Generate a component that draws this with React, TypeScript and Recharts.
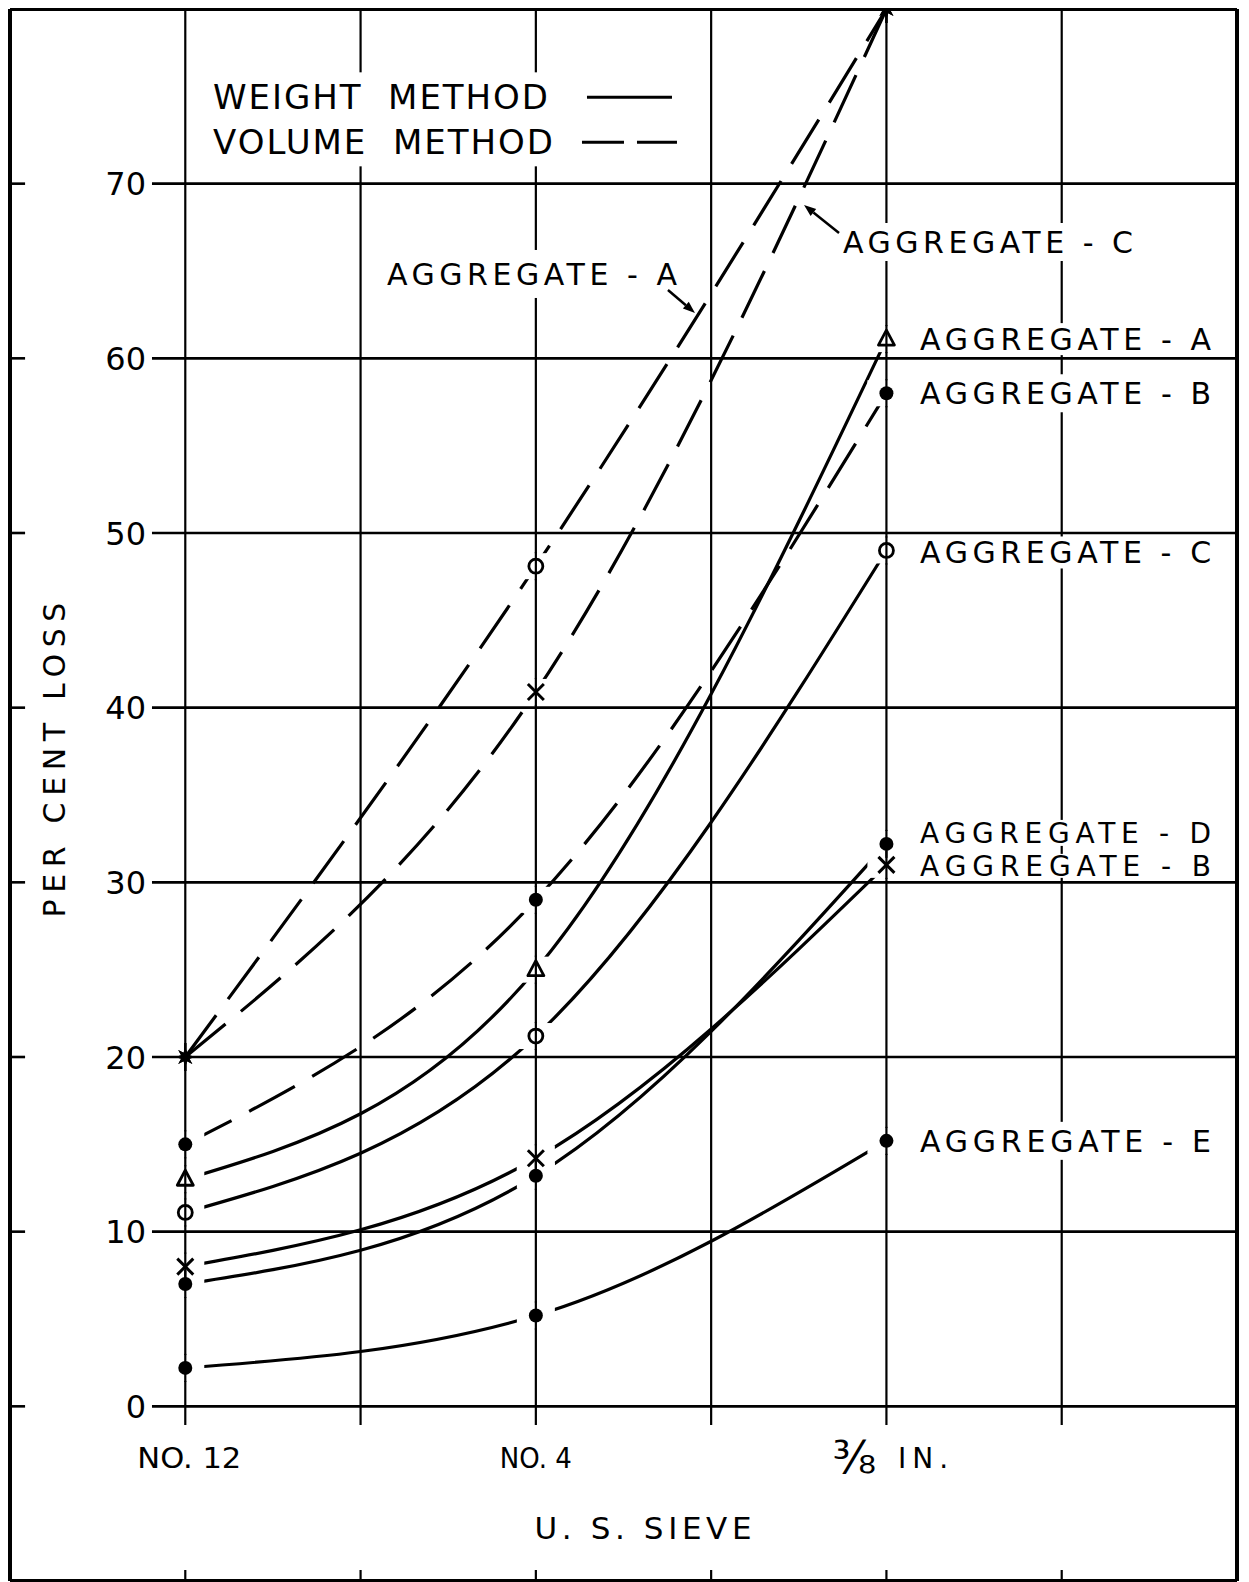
import React from "react";
import {
  ComposedChart,
  Line,
  ReferenceDot,
  ReferenceLine,
  Scatter,
  XAxis,
  YAxis,
} from "recharts";

/** One x unit per sieve size; grid lines fall on the half steps too. */
const SIEVE_POSITIONS = [0, 1, 2];
const SIEVE_LABELS = ["NO. 12", "NO. 4", "⅜ IN."];
const Y_TICKS = [0, 10, 20, 30, 40, 50, 60, 70];
const X_GRID = [0, 0.5, 1, 1.5, 2, 2.5];

// per cent loss at NO. 12, NO. 4 and 3/8 in.
const WEIGHT_A = [13, 25, 61.1];
const WEIGHT_B = [8, 14.2, 31];
const WEIGHT_C = [11.1, 21.2, 49];
const WEIGHT_D = [7, 13.2, 32.2];
const WEIGHT_E = [2.2, 5.2, 15.2];
const VOLUME_A = [20, 48.1, 80];
const VOLUME_B = [15, 29, 58];
const VOLUME_C = [20, 40.9, 80];

const FONT = '"DejaVu Sans", sans-serif';
const INK = "#000";

const CHART_WIDTH = 1233;
const CHART_HEIGHT = 1574;
const MARGIN = { top: 1, right: 4, bottom: 1, left: 2 };
const X_DOMAIN: [number, number] = [-0.5, 3];
const Y_DOMAIN: [number, number] = [-10, 80];

// where grid lines stop, in data units
const GRID_LEFT = -0.095;
const GRID_BOTTOM = -1.07;
const BORDER_TICK_X = -0.457;
const BORDER_TICK_Y = -9.37;

// annotation anchors, in data units
const Y_LABEL_X = -0.112;
const X_LABEL_Y = -2.95;
const RIGHT_LABEL_X = 2.096;
const LEGEND_AT = { x: 0.079, y: 75.0 };
const ARROW_LABEL_A = { x: 0.5753, y: 64.83 };
const ARROW_LABEL_C = { x: 1.8762, y: 66.66 };
const X_TITLE_AT = { x: 1.3056, y: -6.97 };
const Y_TITLE_AT = { x: -0.3745, y: 37.0 };

type MarkerKind = "dot" | "ring" | "triangle" | "cross";

type SeriesDef = {
  key: string;
  values: number[];
  dashed: boolean;
  marker: MarkerKind;
  endLabel?: string;
  labelShift?: number;
  boxHalf?: number;
  labelSize?: number;
};

const SERIES: SeriesDef[] = [
  { key: "weightA", values: WEIGHT_A, dashed: false, marker: "triangle", endLabel: "AGGREGATE - A", boxHalf: 16 },
  { key: "volumeB", values: VOLUME_B, dashed: true, marker: "dot", endLabel: "AGGREGATE - B" },
  { key: "weightC", values: WEIGHT_C, dashed: false, marker: "ring", endLabel: "AGGREGATE - C", labelShift: 2, boxHalf: 16 },
  { key: "weightD", values: WEIGHT_D, dashed: false, marker: "dot", endLabel: "AGGREGATE - D", labelShift: -11, boxHalf: 13, labelSize: 28 },
  { key: "weightB", values: WEIGHT_B, dashed: false, marker: "cross", endLabel: "AGGREGATE - B", labelShift: 1, boxHalf: 12, labelSize: 28 },
  { key: "weightE", values: WEIGHT_E, dashed: false, marker: "dot", endLabel: "AGGREGATE - E" },
  { key: "volumeA", values: VOLUME_A, dashed: true, marker: "ring" },
  { key: "volumeC", values: VOLUME_C, dashed: true, marker: "cross" },
];

// drawn width of each sieve label, px
const SIEVE_LABEL_WIDTH: Record<string, number> = { "NO. 12": 104, "NO. 4": 72 };

type Pt = { x: number; y: number; shared: boolean };

function pointsOf(s: SeriesDef): Pt[] {
  return SIEVE_POSITIONS.map((x, i) => ({
    x,
    y: s.values[i],
    shared: SERIES.some((o) => o !== s && o.values[i] === s.values[i]),
  }));
}

function starPath(cx: number, cy: number, outer: number, inner: number, spikes: number) {
  let d = "";
  for (let i = 0; i < spikes * 2; i++) {
    const r = i % 2 === 0 ? outer : inner;
    const a = (Math.PI * i) / spikes - Math.PI / 2;
    d += `${i === 0 ? "M" : "L"}${cx + r * Math.cos(a)},${cy + r * Math.sin(a)}`;
  }
  return d + "Z";
}

// white patch so the curves stop short of each marker, like the drawing
function renderHalo(props: any) {
  const { cx, cy, payload } = props;
  if (cx == null || cy == null || payload?.shared) return <g />;
  return <rect x={cx - 19} y={cy - 13} width={38} height={26} fill="#fff" />;
}

function renderMarker(kind: MarkerKind) {
  return (props: any) => {
    const { cx, cy, payload } = props;
    if (cx == null || cy == null) return <g />;
    const stem = (
      <line x1={cx} x2={cx} y1={cy - 14} y2={cy + 14} stroke={INK} strokeWidth={2.2} />
    );
    if (payload?.shared) {
      return (
        <g>
          {stem}
          <path d={starPath(cx, cy, 10, 4.5, 8)} fill={INK} />
        </g>
      );
    }
    if (kind === "dot") {
      return (
        <g>
          {stem}
          <circle cx={cx} cy={cy} r={7} fill={INK} />
        </g>
      );
    }
    if (kind === "ring") {
      return (
        <g>
          {stem}
          <circle cx={cx} cy={cy} r={7} fill="none" stroke={INK} strokeWidth={2.8} />
        </g>
      );
    }
    if (kind === "triangle") {
      return (
        <g>
          {stem}
          <polygon
            points={`${cx},${cy - 9} ${cx - 8},${cy + 6} ${cx + 8},${cy + 6}`}
            fill="none"
            stroke={INK}
            strokeWidth={2.8}
            strokeLinejoin="round"
          />
        </g>
      );
    }
    return (
      <g>
        {stem}
        <path
          d={`M${cx - 8},${cy - 8}L${cx + 8},${cy + 8}M${cx + 8},${cy - 8}L${cx - 8},${cy + 8}`}
          stroke={INK}
          strokeWidth={3}
        />
      </g>
    );
  };
}

type BoxedProps = {
  x: number;
  y: number;
  text: string;
  width: number;
  fontSize: number;
  halfH?: number;
};

function BoxedText({ x, y, text, width, fontSize, halfH = 19 }: BoxedProps) {
  return (
    <g>
      <rect x={x - 7} y={y - halfH} width={width + 14} height={halfH * 2} fill="#fff" />
      <text
        x={x}
        y={y + fontSize * 0.36}
        fontSize={fontSize}
        fontFamily={FONT}
        fill={INK}
        textLength={width}
        lengthAdjust="spacing"
        style={{ whiteSpace: "pre" }}
      >
        {text}
      </text>
    </g>
  );
}

function Arrow({ x1, y1, x2, y2 }: { x1: number; y1: number; x2: number; y2: number }) {
  const ang = Math.atan2(y2 - y1, x2 - x1);
  const len = 12;
  const half = 4.5;
  const bx = x2 - len * Math.cos(ang);
  const by = y2 - len * Math.sin(ang);
  const px = -Math.sin(ang) * half;
  const py = Math.cos(ang) * half;
  return (
    <g>
      <line x1={x1} y1={y1} x2={bx} y2={by} stroke={INK} strokeWidth={2.5} />
      <polygon points={`${x2},${y2} ${bx + px},${by + py} ${bx - px},${by - py}`} fill={INK} />
    </g>
  );
}

function renderSieveLabel(label: string) {
  return (props: any) => {
    const { cx, cy } = props;
    const fs = 28;
    if (label.startsWith("⅜")) {
      const rest = label.slice(1).trim();
      return (
        <text x={cx - 54} y={cy + 15} fontFamily={FONT} fill={INK}>
          <tspan fontSize={45}>⅜</tspan>
          <tspan fontSize={fs} dx={22} dy={-5} letterSpacing={6}>
            {rest}
          </tspan>
        </text>
      );
    }
    return (
      <text
        x={cx + (label === "NO. 12" ? 4 : 0)}
        y={cy + fs * 0.36}
        fontSize={fs}
        fontFamily={FONT}
        fill={INK}
        textAnchor="middle"
        textLength={SIEVE_LABEL_WIDTH[label]}
        lengthAdjust="spacingAndGlyphs"
      >
        {label}
      </text>
    );
  };
}

export default function App() {
  return (
    <div style={{ width: CHART_WIDTH, height: CHART_HEIGHT, background: "#fff" }}>
      <ComposedChart
        width={CHART_WIDTH}
        height={CHART_HEIGHT}
        margin={MARGIN}
        style={{ fontFamily: FONT }}
      >
        <XAxis type="number" dataKey="x" domain={X_DOMAIN} allowDataOverflow hide />
        <YAxis type="number" dataKey="y" domain={Y_DOMAIN} allowDataOverflow hide />

        {Y_TICKS.map((v) => (
          <ReferenceLine
            key={`h-${v}`}
            segment={[{ x: GRID_LEFT, y: v }, { x: X_DOMAIN[1], y: v }]}
            stroke={INK}
            strokeWidth={2.6}
            ifOverflow="visible"
          />
        ))}
        {Y_TICKS.map((v) => (
          <ReferenceLine
            key={`lt-${v}`}
            segment={[{ x: X_DOMAIN[0], y: v }, { x: BORDER_TICK_X, y: v }]}
            stroke={INK}
            strokeWidth={2.6}
            ifOverflow="visible"
          />
        ))}
        {X_GRID.map((v) => (
          <ReferenceLine
            key={`v-${v}`}
            segment={[{ x: v, y: GRID_BOTTOM }, { x: v, y: Y_DOMAIN[1] }]}
            stroke={INK}
            strokeWidth={2.2}
            ifOverflow="visible"
          />
        ))}
        {X_GRID.map((v) => (
          <ReferenceLine
            key={`bt-${v}`}
            segment={[{ x: v, y: Y_DOMAIN[0] }, { x: v, y: BORDER_TICK_Y }]}
            stroke={INK}
            strokeWidth={2.2}
            ifOverflow="visible"
          />
        ))}
        <ReferenceLine x={X_DOMAIN[0]} stroke={INK} strokeWidth={4} ifOverflow="visible" />
        <ReferenceLine x={X_DOMAIN[1]} stroke={INK} strokeWidth={4} ifOverflow="visible" />
        <ReferenceLine y={Y_DOMAIN[0]} stroke={INK} strokeWidth={4} ifOverflow="visible" />
        <ReferenceLine y={Y_DOMAIN[1]} stroke={INK} strokeWidth={4} ifOverflow="visible" />

        {SERIES.map((s) => (
          <Line
            key={`line-${s.key}`}
            data={pointsOf(s)}
            dataKey="y"
            type="monotone"
            stroke={INK}
            strokeWidth={3.2}
            strokeDasharray={s.dashed ? "52 20" : undefined}
            dot={false}
            activeDot={false}
            isAnimationActive={false}
          />
        ))}
        {SERIES.map((s) => (
          <Scatter
            key={`halo-${s.key}`}
            data={pointsOf(s)}
            shape={renderHalo}
            isAnimationActive={false}
          />
        ))}
        {SERIES.map((s) => (
          <Scatter
            key={`mark-${s.key}`}
            data={pointsOf(s)}
            shape={renderMarker(s.marker)}
            isAnimationActive={false}
          />
        ))}

        {Y_TICKS.map((v) => (
          <ReferenceDot
            key={`yl-${v}`}
            x={Y_LABEL_X}
            y={v}
            r={1}
            ifOverflow="visible"
            shape={(p: any) => (
              <text
                x={p.cx}
                y={p.cy + 32 * 0.36}
                fontSize={32}
                fontFamily={FONT}
                fill={INK}
                textAnchor="end"
              >
                {v}
              </text>
            )}
          />
        ))}
        {SIEVE_POSITIONS.map((x, i) => (
          <ReferenceDot
            key={`xl-${x}`}
            x={x}
            y={X_LABEL_Y}
            r={1}
            ifOverflow="visible"
            shape={renderSieveLabel(SIEVE_LABELS[i])}
          />
        ))}

        <ReferenceDot
          x={X_TITLE_AT.x}
          y={X_TITLE_AT.y}
          r={1}
          ifOverflow="visible"
          shape={(p: any) => (
            <text
              x={p.cx}
              y={p.cy + 31 * 0.36}
              fontSize={31}
              fontFamily={FONT}
              fill={INK}
              textAnchor="middle"
              textLength={217}
              lengthAdjust="spacing"
            >
              U. S. SIEVE
            </text>
          )}
        />
        <ReferenceDot
          x={Y_TITLE_AT.x}
          y={Y_TITLE_AT.y}
          r={1}
          ifOverflow="visible"
          shape={(p: any) => (
            <text
              x={p.cx}
              y={p.cy}
              dy={30 * 0.36}
              transform={`rotate(-90 ${p.cx} ${p.cy})`}
              fontSize={30}
              fontFamily={FONT}
              fill={INK}
              textAnchor="middle"
              textLength={315}
              lengthAdjust="spacing"
            >
              PER CENT LOSS
            </text>
          )}
        />

        <ReferenceDot
          x={LEGEND_AT.x}
          y={LEGEND_AT.y}
          r={1}
          ifOverflow="visible"
          shape={(p: any) => (
            <g>
              <rect x={p.cx - 13} y={p.cy - 24} width={490} height={94} fill="#fff" />
              <text
                x={p.cx}
                y={p.cy + 34 * 0.36}
                fontSize={34}
                fontFamily={FONT}
                fill={INK}
                textLength={335}
                lengthAdjust="spacing"
                style={{ whiteSpace: "pre" }}
              >
                {"WEIGHT  METHOD"}
              </text>
              <line x1={p.cx + 374} x2={p.cx + 459} y1={p.cy + 1} y2={p.cy + 1} stroke={INK} strokeWidth={3} />
              <text
                x={p.cx}
                y={p.cy + 45 + 34 * 0.36}
                fontSize={34}
                fontFamily={FONT}
                fill={INK}
                textLength={340}
                lengthAdjust="spacing"
                style={{ whiteSpace: "pre" }}
              >
                {"VOLUME  METHOD"}
              </text>
              <line
                x1={p.cx + 369}
                x2={p.cx + 464}
                y1={p.cy + 46}
                y2={p.cy + 46}
                stroke={INK}
                strokeWidth={3}
                strokeDasharray="42 13"
              />
            </g>
          )}
        />

        <ReferenceDot
          x={ARROW_LABEL_A.x}
          y={ARROW_LABEL_A.y}
          r={1}
          ifOverflow="visible"
          shape={(p: any) => (
            <g>
              <BoxedText x={p.cx} y={p.cy} text="AGGREGATE - A" width={290} fontSize={30} halfH={24} />
              <Arrow x1={p.cx + 281} y1={p.cy + 16} x2={p.cx + 308} y2={p.cy + 39} />
            </g>
          )}
        />
        <ReferenceDot
          x={ARROW_LABEL_C.x}
          y={ARROW_LABEL_C.y}
          r={1}
          ifOverflow="visible"
          shape={(p: any) => (
            <g>
              <BoxedText x={p.cx} y={p.cy} text="AGGREGATE - C" width={290} fontSize={30} />
              <Arrow x1={p.cx - 4} y1={p.cy - 9} x2={p.cx - 39} y2={p.cy - 37} />
            </g>
          )}
        />

        {SERIES.filter((s) => s.endLabel).map((s) => (
          <ReferenceDot
            key={`end-${s.key}`}
            x={RIGHT_LABEL_X}
            y={s.values[s.values.length - 1]}
            r={1}
            ifOverflow="visible"
            shape={(p: any) => (
              <BoxedText
                x={p.cx}
                y={p.cy + (s.labelShift ?? 0)}
                text={s.endLabel as string}
                width={291}
                fontSize={s.labelSize ?? 30}
                halfH={s.boxHalf ?? 19}
              />
            )}
          />
        ))}
      </ComposedChart>
    </div>
  );
}
